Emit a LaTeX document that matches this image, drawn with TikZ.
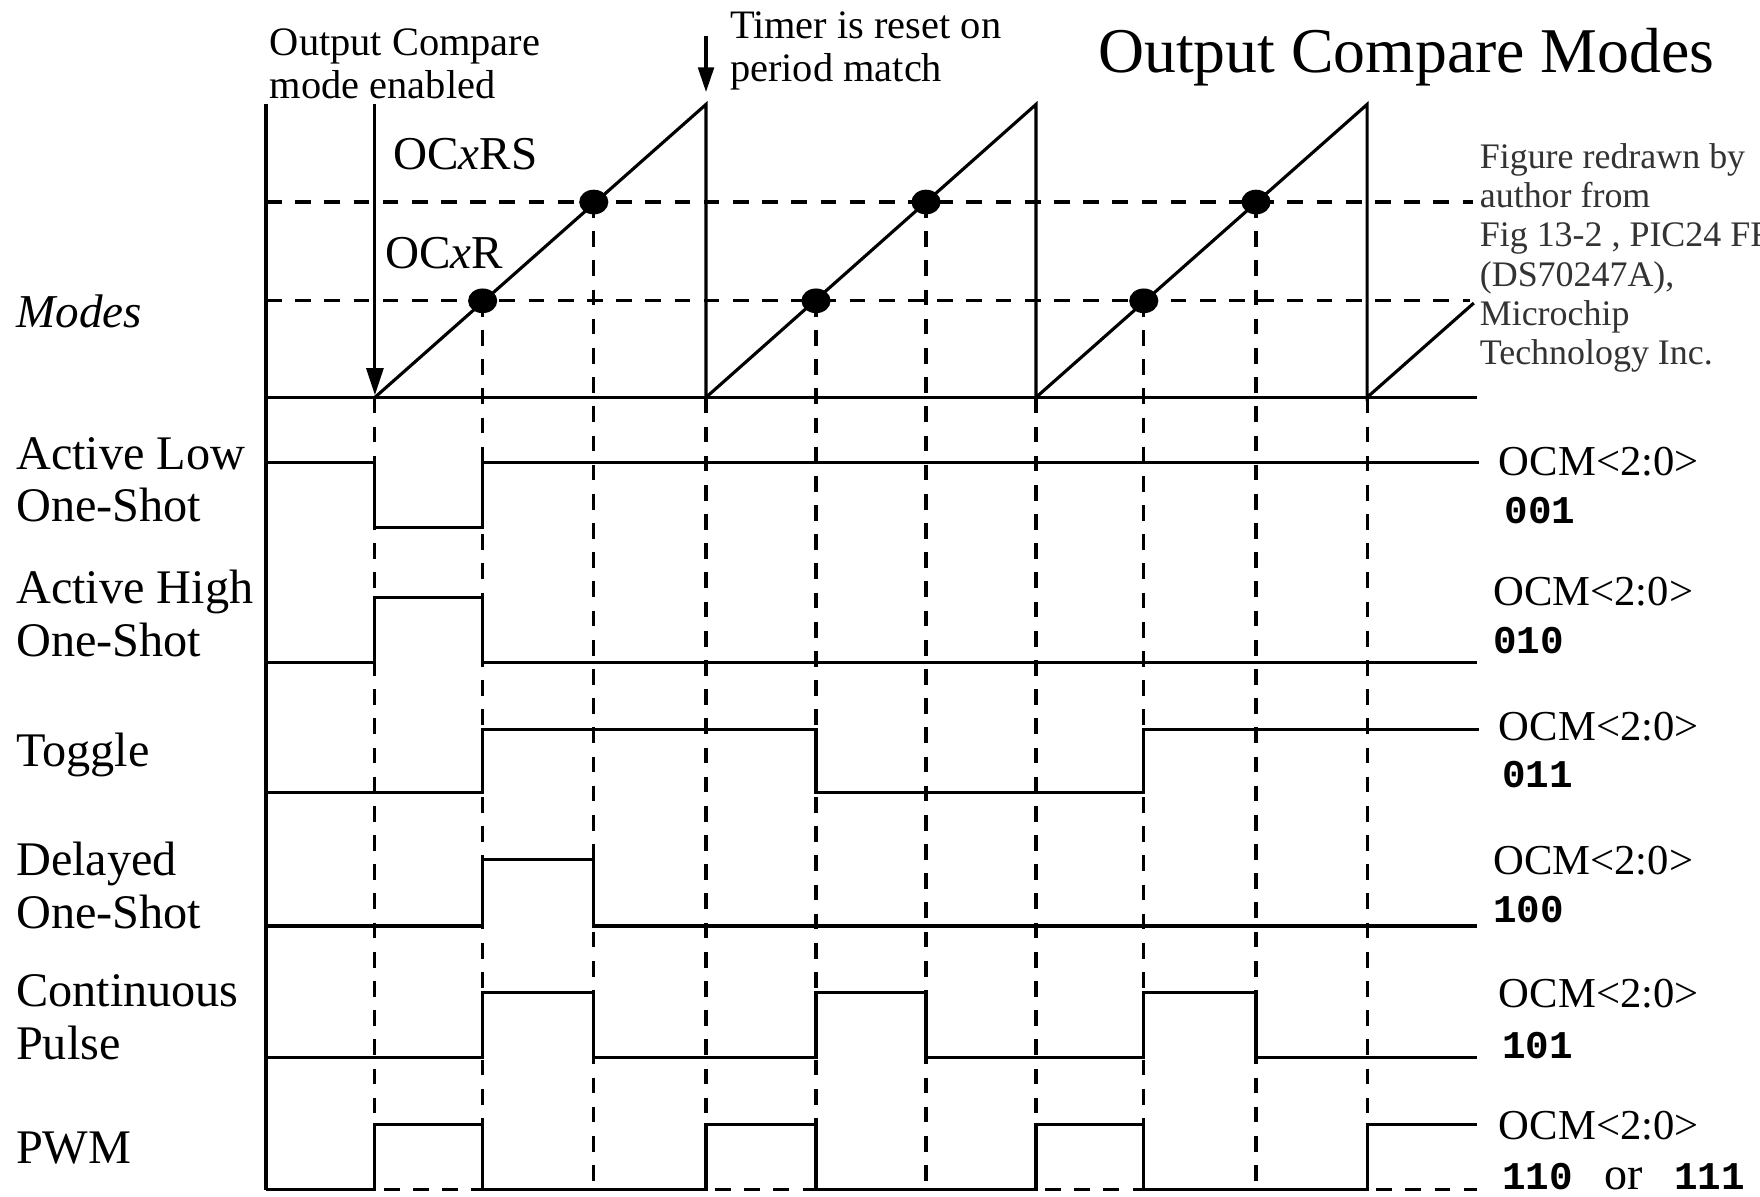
\documentclass[tikz,border=0pt]{standalone}
\usepackage{fontspec}
\setmainfont{Liberation Serif}
\setmonofont{Liberation Mono}
\usetikzlibrary{arrows.meta}
\begin{document}
\begin{tikzpicture}[x=0.5pt,y=-0.5pt,
  sig/.style={line width=1.4pt, line join=miter},
  guide/.style={line width=1.4pt, dash pattern=on 7pt off 6pt},
  dot/.style={fill=black},
  rowlbl/.style={anchor=base west, inner sep=0pt, align=left,
    font=\fontsize{21.5}{23.5}\selectfont},
  ocm/.style={anchor=base west, inner sep=0pt, font=\fontsize{19}{22}\selectfont},
  code/.style={anchor=base west, inner sep=0pt, font=\fontsize{17.5}{20}\selectfont\ttfamily\bfseries},
  note/.style={anchor=base west, inner sep=0pt, align=left,
    font=\fontsize{18}{19.5}\selectfont},
  reg/.style={anchor=base west, inner sep=0pt, font=\fontsize{21}{24}\selectfont},
  credit/.style={anchor=base west, inner sep=0pt, align=left, text=black!80,
    font=\fontsize{16}{17.5}\selectfont}]
\useasboundingbox (0,0) rectangle (1568,1066);
\fill[white] (0,0) rectangle (1568,1066);

% ---- dashed reference lines (compare levels and event instants) ----
\draw[guide] (237,180) -- (1312,180);
\draw[guide] (237,268) -- (1310,268);
\foreach \xx in {334,629,923,1218} \draw[guide] (\xx,354) -- (\xx,1060);
\foreach \xx in {430,727,1019} \draw[guide] (\xx,268) -- (\xx,1060);
\foreach \xx in {529,825,1119} \draw[guide] (\xx,180) -- (\xx,1060);

% ---- timer ramp ----
\draw[sig] (237,93) -- (237,1060);
\draw[sig] (237,354) -- (1316,354);
\draw[sig] (334,354) -- (629,93) -- (629,354) -- (923,93) -- (923,354)
  -- (1218,93) -- (1218,354) -- (1313,270);
\foreach \xx in {430,727,1019} \fill[dot] (\xx,268) ellipse [x radius=13, y radius=11];
\foreach \xx in {529,825,1119} \fill[dot] (\xx,180) ellipse [x radius=13, y radius=11];

% ---- event arrows ----
\draw[sig, -{Triangle[length=12pt,width=7.5pt]}] (334,93) -- (334,352);
\draw[sig, -{Triangle[length=11pt,width=7pt]}] (629,32) -- (629,82);

% ---- output waveforms ----
% Active Low One-Shot
\draw[sig] (237,412) -- (334,412) -- (334,470) -- (430,470) -- (430,412) -- (1318,412);
% Active High One-Shot
\draw[sig] (237,590) -- (334,590) -- (334,532) -- (430,532) -- (430,590) -- (1316,590);
% Toggle
\draw[sig] (237,706) -- (430,706) -- (430,650) -- (727,650) -- (727,706)
  -- (1019,706) -- (1019,650) -- (1318,650);
% Delayed One-Shot
\draw[sig] (237,825) -- (430,825) -- (430,766) -- (529,766) -- (529,825) -- (1316,825);
% Continuous Pulse
\draw[sig] (237,942) -- (430,942) -- (430,884) -- (529,884) -- (529,942)
  -- (727,942) -- (727,884) -- (825,884) -- (825,942)
  -- (1019,942) -- (1019,884) -- (1119,884) -- (1119,942) -- (1316,942);
% PWM
\draw[sig] (237,1060) -- (334,1060) -- (334,1002) -- (430,1002) -- (430,1060)
  -- (629,1060) -- (629,1002) -- (727,1002) -- (727,1060)
  -- (923,1060) -- (923,1002) -- (1019,1002) -- (1019,1060)
  -- (1218,1060) -- (1218,1002) -- (1316,1002);
\foreach \xa/\xb in {334/430,629/727,923/1019,1218/1316}
  \draw[guide] (\xa+8,1060) -- (\xb,1060);

% ---- texts (multi-line nodes are placed by the baseline of their last line) ----
\node[anchor=base west, inner sep=0pt, font=\fontsize{28.4}{32}\selectfont]
  (title) at (978,65) {Output Compare Modes};
\node[note] (enabled) at (240,88) {Output Compare\\mode enabled};
\node[note] (reset) at (650,73) {Timer is reset on\\period match};
\node[reg] (ocrs) at (350,151) {OC\textit{x}RS};
\node[reg] (ocr) at (343,239) {OC\textit{x}R};
\node[anchor=base west, inner sep=0pt, font=\fontsize{21}{24}\selectfont\itshape]
  (modes) at (14,292) {Modes};
\begin{scope}
  \clip (0,0) rectangle (1568,1066);
  \node[credit] (credit) at (1318,325)
    {Figure redrawn by\\author from\\Fig 13-2 , PIC24 FRM\\(DS70247A),\\Microchip\\Technology Inc.};
\end{scope}

\node[rowlbl] (l1) at (14,465) {Active Low\\One-Shot};
\node[rowlbl] (l2) at (14,585) {Active High\\One-Shot};
\node[rowlbl] (l3) at (14,683) {Toggle};
\node[rowlbl] (l4) at (14,827) {Delayed\\One-Shot};
\node[rowlbl] (l5) at (14,944) {Continuous\\Pulse};
\node[rowlbl] (l6) at (14,1037) {PWM};

\node[ocm] (o1) at (1335,424) {OCM<2:0>};
\node[code] (c1) at (1340,466) {001};
\node[ocm] (o2) at (1330,539) {OCM<2:0>};
\node[code] (c2) at (1330,582) {010};
\node[ocm] (o3) at (1335,660) {OCM<2:0>};
\node[code] (c3) at (1338,702) {011};
\node[ocm] (o4) at (1330,779) {OCM<2:0>};
\node[code] (c4) at (1330,822) {100};
\node[ocm] (o5) at (1335,898) {OCM<2:0>};
\node[code] (c5) at (1338,943) {101};
\node[ocm] (o6) at (1335,1015) {OCM<2:0>};
\node[anchor=base west, inner sep=0pt, font=\fontsize{17.5}{20}\selectfont]
  (c6) at (1338,1060) {\ttfamily\bfseries 110\hspace{14pt}{\rmfamily\mdseries\fontsize{20.5}{22}\selectfont or}\hspace{14pt}111};
\end{tikzpicture}
\end{document}
